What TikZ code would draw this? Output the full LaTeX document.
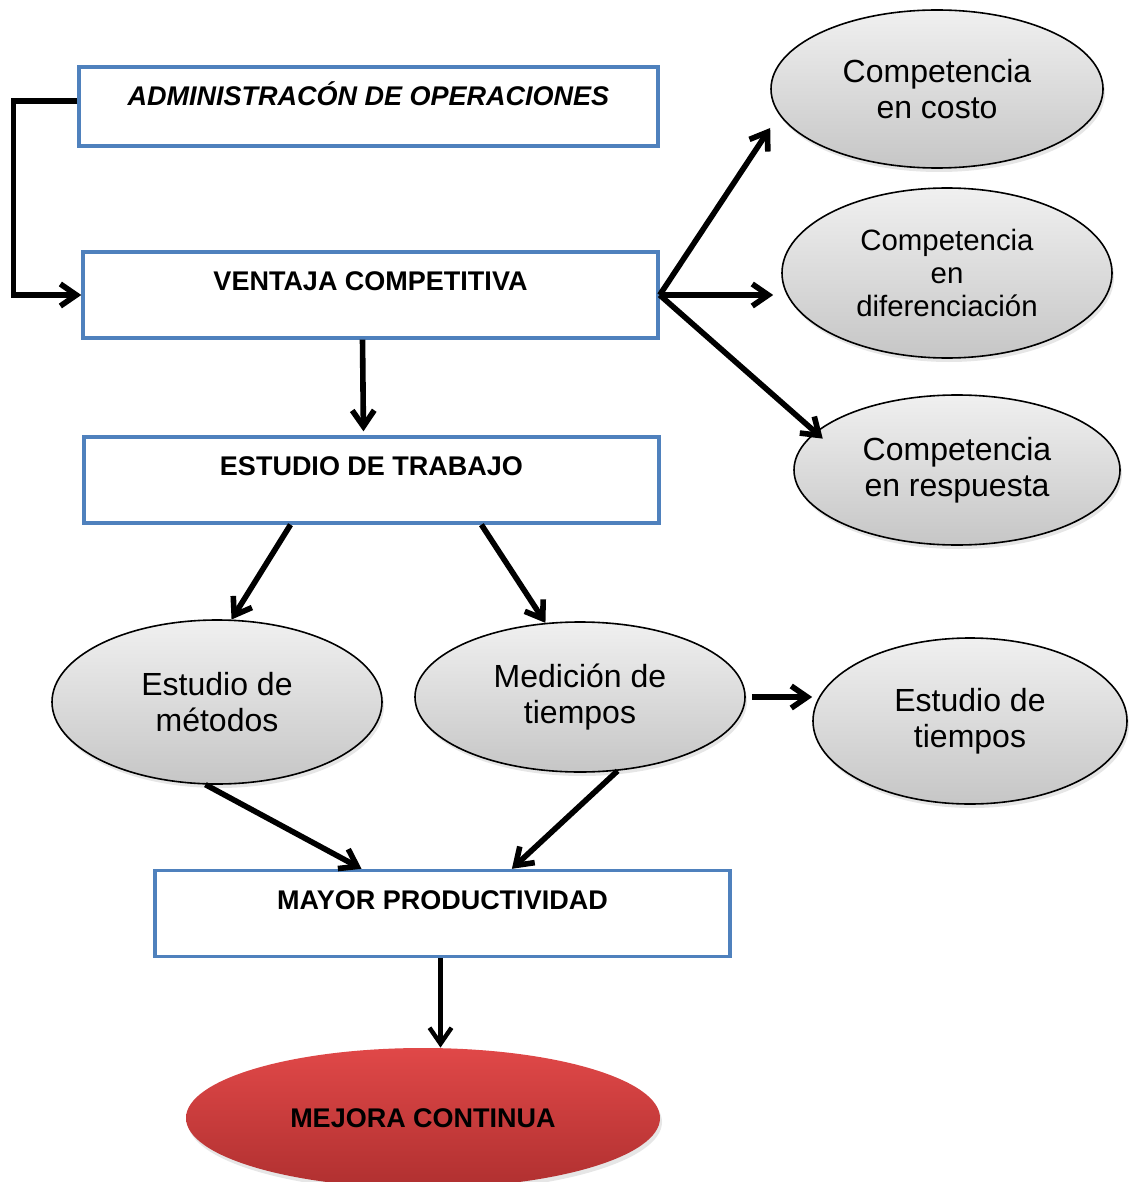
\documentclass[tikz,border=0pt]{standalone}
\usepackage{fontspec}
\setmainfont{Liberation Sans}
\usetikzlibrary{shapes.geometric,arrows.meta,calc,shadows}

\definecolor{opborde}{HTML}{4F81BD}
\definecolor{opgrisA}{HTML}{F0F0F0}
\definecolor{opgrisB}{HTML}{C6C6C6}
\definecolor{oprojoA}{HTML}{E04848}
\definecolor{oprojoB}{HTML}{B03030}

\begin{document}
\begin{tikzpicture}[
  x=0.5pt, y=-0.5pt,
  caja/.style={draw=opborde, line width=1.7pt, fill=white, inner sep=0pt,
    minimum width=287.5pt, minimum height=43pt,
    font=\bfseries\fontsize{13.5}{15}\selectfont,
    text height=9.7pt, text depth=14pt},
  ovalo/.style={ellipse, draw=black, line width=0.8pt, inner sep=0pt,
    top color=opgrisA, bottom color=opgrisB, align=center,
    font=\fontsize{16}{18}\selectfont,
    drop shadow={opacity=0.2, shadow xshift=1pt, shadow yshift=-2pt}},
  flecha/.style={line width=2.8pt, -{Straight Barb[length=8pt,width=11pt]}},
]
\useasboundingbox (0,0) rectangle (1133,1182);

% cajas
\node[caja, minimum width=289.5pt, minimum height=39.5pt, text depth=10.7pt,
  font=\bfseries\itshape\fontsize{13.5}{15}\selectfont]
  (adm) at (368.5,106.5) {ADMINISTRACÓN DE OPERACIONES};
\node[caja] (vent) at (370.5,295) {VENTAJA COMPETITIVA};
\node[caja] (est) at (371.5,480) {ESTUDIO DE TRABAJO};
\node[caja] (mayor) at (442.5,913.5) {MAYOR PRODUCTIVIDAD};

% ovalos
\node[ovalo, minimum width=166pt, minimum height=79pt]
  (costo) at (937,89) {Competencia\\en costo};
\node[ovalo, minimum width=165pt, minimum height=85pt,
  font=\fontsize{14.7}{16.5}\selectfont]
  (dif) at (947,273) {Competencia\\en\\diferenciación};
\node[ovalo, minimum width=163pt, minimum height=75pt]
  (resp) at (957,470) {Competencia\\en respuesta};
\node[ovalo, minimum width=165pt, minimum height=82pt]
  (metodos) at (217,702) {Estudio de\\métodos};
\node[ovalo, minimum width=165pt, minimum height=75pt]
  (medicion) at (580,697) {Medición de\\tiempos};
\node[ovalo, minimum width=157pt, minimum height=83pt]
  (tiempos) at (970,721) {Estudio de\\tiempos};
\node[ellipse, inner sep=0pt, top color=oprojoA, bottom color=oprojoB,
  minimum width=237pt, minimum height=70pt,
  font=\bfseries\fontsize{13.5}{15}\selectfont,
  drop shadow={opacity=0.2, shadow xshift=1pt, shadow yshift=-2pt}]
  (mejora) at (423,1118) {MEJORA CONTINUA};

% flechas
\draw[flecha] ([yshift=2.75pt]adm.west) -- ++(-64,0) |- (vent.west);
\draw[flecha] (vent.east) -- ([yshift=-19.5pt]costo.west);
\draw[flecha, shorten >=4pt] (vent.east) -- (vent.east -| dif.west);
\draw[flecha, shorten >=-5pt] (vent.east) -- (resp.165);
\draw[flecha, shorten >=2pt] ([xshift=-4pt]vent.south) -- ([xshift=-4pt]est.north);
\draw[flecha] ($(est.south west)!0.36!(est.south east)$) -- (metodos.80);
\draw[flecha] ($(est.south west)!0.69!(est.south east)$) -- (medicion.115);
\draw[flecha, shorten <=3pt] (medicion.east) -- (medicion.east -| tiempos.west);
\draw[flecha] (metodos.262) -- ($(mayor.north west)!0.36!(mayor.north east)$);
\draw[flecha] (medicion.297) -- ($(mayor.north west)!0.62!(mayor.north east)$);
\draw[flecha, line width=2.2pt] ([xshift=-1pt]mayor.south) -- ([xshift=-1pt]mayor.south |- mejora.north);

\end{tikzpicture}
\end{document}
